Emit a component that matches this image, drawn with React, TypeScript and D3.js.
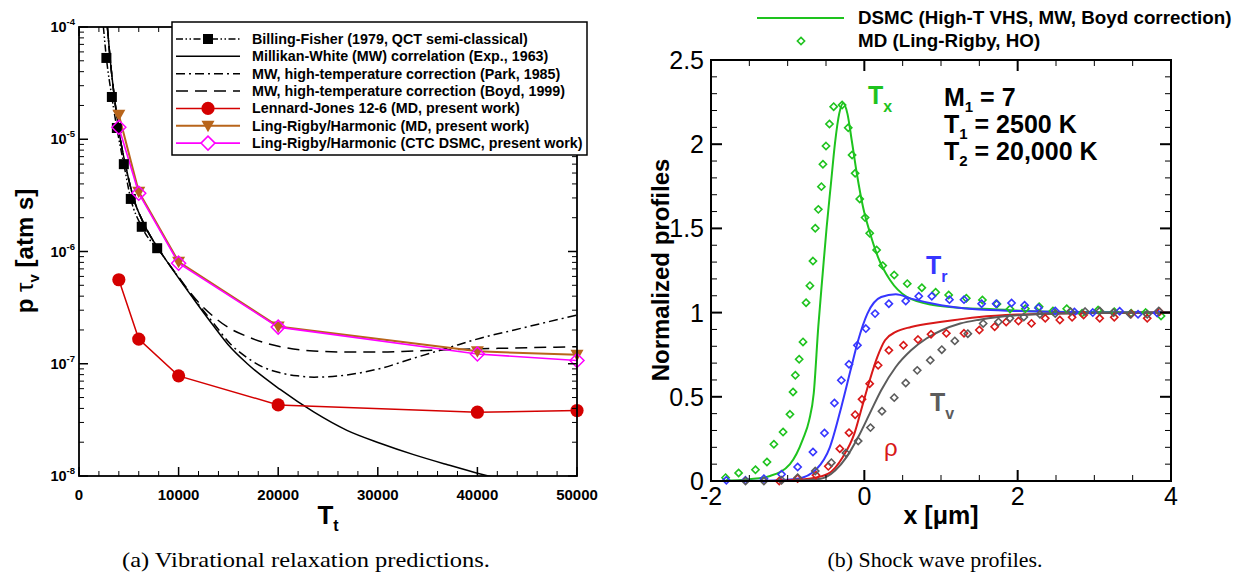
import React from 'react';
import * as d3 from 'd3';

// ---------------- Left panel data (p*tau_v vs T_t) ----------------
const bfMarkT = [2750, 3300, 3800, 4500, 5200, 6300, 7850];
const bfMarkV = [5.3e-5, 2.38e-5, 1.26e-5, 6.0e-6, 2.94e-6, 1.66e-6, 1.07e-6];
const bfLineT = [2450, 2750, 3300, 3800, 4500, 5200, 6300, 7850];
const bfLineV = [1e-4, 5.3e-5, 2.38e-5, 1.26e-5, 6.0e-6, 2.94e-6, 1.66e-6, 1.07e-6];

const mwT = [2850, 3120, 3550, 4150, 4650, 5500, 6540, 8150, 9000, 10200, 11800, 13500, 15000, 16900, 20200, 23600, 26900, 30300, 33600, 37000, 40000, 41500];
const mwV = [1e-4, 5.3e-5, 2.38e-5, 1.0e-5, 6.0e-6, 2.94e-6, 1.75e-6, 1.0e-6, 7.76e-7, 5.47e-7, 3.48e-7, 2.18e-7, 1.47e-7, 1.0e-7, 5.9e-8, 3.7e-8, 2.55e-8, 1.95e-8, 1.55e-8, 1.26e-8, 1.06e-8, 0.98e-8];

const parkT = [2850, 3120, 3550, 4150, 4650, 5500, 6540, 8150, 9000, 10200, 11800, 13500, 15200, 16900, 18500, 20200, 21900, 23600, 26900, 30300, 33600, 37000, 40300, 43700, 50000];
const parkV = [1e-4, 5.3e-5, 2.38e-5, 1.0e-5, 6.0e-6, 2.94e-6, 1.75e-6, 1.0e-6, 7.8e-7, 5.55e-7, 3.55e-7, 2.3e-7, 1.5e-7, 1.13e-7, 9.3e-8, 8.3e-8, 7.8e-8, 7.6e-8, 7.95e-8, 9.1e-8, 1.12e-7, 1.38e-7, 1.69e-7, 2.0e-7, 2.72e-7];

const boydT = [2850, 3120, 3550, 4150, 4650, 5500, 6540, 8150, 9000, 10200, 11170, 12300, 13510, 15000, 16870, 18500, 20220, 23540, 27000, 30280, 33600, 36990, 40300, 43660, 47000, 50000];
const boydV = [1e-4, 5.3e-5, 2.38e-5, 1.0e-5, 6.0e-6, 2.94e-6, 1.75e-6, 1.0e-6, 7.8e-7, 5.6e-7, 4.3e-7, 3.3e-7, 2.63e-7, 2.1e-7, 1.75e-7, 1.55e-7, 1.42e-7, 1.3e-7, 1.27e-7, 1.27e-7, 1.3e-7, 1.33e-7, 1.36e-7, 1.38e-7, 1.4e-7, 1.42e-7];

const mdT = [4000, 6000, 10000, 20000, 40000, 50000];
const ljV = [5.6e-7, 1.66e-7, 7.8e-8, 4.3e-8, 3.7e-8, 3.83e-8];
const lrV = [1.65e-5, 3.4e-6, 8.1e-7, 2.15e-7, 1.29e-7, 1.2e-7];
const ctcV = [1.28e-5, 3.3e-6, 7.87e-7, 2.12e-7, 1.22e-7, 1.07e-7];

const xTickLabelsL = ['0', '10000', '20000', '30000', '40000', '50000'];
const yTickExpL = [-4, -5, -6, -7, -8];

const legendLabelsL = [
  'Billing-Fisher (1979, QCT semi-classical)',
  'Millikan-White (MW) correlation (Exp., 1963)',
  'MW, high-temperature correction (Park, 1985)',
  'MW, high-temperature correction (Boyd, 1999)',
  'Lennard-Jones 12-6 (MD, present work)',
  'Ling-Rigby/Harmonic (MD, present work)',
  'Ling-Rigby/Harmonic (CTC DSMC, present work)',
];

// ---------------- Right panel data (shock profiles) ----------------
const txLineX = [-1.85, -1.5, -1.23, -0.97, -0.8, -0.72, -0.66, -0.6, -0.543, -0.491, -0.435, -0.383, -0.327, -0.274, -0.22, -0.165, -0.099, -0.017, 0.074, 0.178, 0.335, 0.553, 0.896, 1.34, 1.69, 2.2, 3.0, 4.0];
const txLineY = [0.0, 0.01, 0.03, 0.1, 0.25, 0.36, 0.52, 0.92, 1.233, 1.51, 1.768, 2.005, 2.183, 2.243, 2.18, 2.025, 1.829, 1.627, 1.473, 1.33, 1.194, 1.094, 1.045, 1.026, 1.02, 1.008, 1.003, 1.0];
const txMdX = [-1.81, -1.64, -1.42, -1.27, -1.18, -1.06, -0.97, -0.93, -0.9, -0.85, -0.8, -0.76, -0.71, -0.67, -0.64, -0.6, -0.56, -0.54, -0.5, -0.455, -0.4, -0.29, -0.21, -0.16, -0.12, -0.06, 0.01, 0.07, 0.16, 0.24, 0.39, 0.56, 0.75, 0.93, 1.1, 1.33, 1.54, 1.73, 1.9, 2.1, 2.28, 2.46, 2.64, 2.84, 3.05, 3.26, 3.48, 3.67, 3.87];
const txMdY = [0.02, 0.048, 0.067, 0.113, 0.218, 0.291, 0.396, 0.529, 0.628, 0.723, 0.826, 1.059, 1.16, 1.306, 1.501, 1.613, 1.748, 1.881, 1.989, 2.12, 2.223, 2.233, 2.098, 1.936, 1.827, 1.675, 1.564, 1.471, 1.372, 1.279, 1.223, 1.172, 1.148, 1.121, 1.105, 1.085, 1.075, 1.051, 1.021, 1.023, 1.035, 1.01, 1.023, 0.996, 1.015, 1.005, 0.996, 1.0, 0.98];

const trLineX = [-1.8, -1.3, -0.87, -0.62, -0.45, -0.3, -0.18, -0.08, 0.04, 0.22, 0.41, 0.61, 1.0, 1.5, 2.0, 2.5, 3.0, 4.0];
const trLineY = [0, 0.002, 0.014, 0.073, 0.2, 0.44, 0.657, 0.836, 0.994, 1.093, 1.109, 1.083, 1.044, 1.018, 1.01, 1.004, 1.001, 1.0];
const trMdX = [-1.8, -1.55, -1.31, -1.08, -0.87, -0.67, -0.52, -0.39, -0.3, -0.2, -0.09, 0.02, 0.14, 0.32, 0.54, 0.71, 0.88, 1.11, 1.3, 1.53, 1.72, 1.92, 2.09, 2.27, 2.49, 2.74, 2.98, 3.33, 3.57, 3.82];
const trMdY = [0.004, 0.004, 0.014, 0.04, 0.083, 0.172, 0.285, 0.463, 0.598, 0.693, 0.806, 0.905, 0.994, 1.053, 1.069, 1.097, 1.097, 1.077, 1.077, 1.053, 1.053, 1.057, 1.044, 1.028, 1.01, 1.004, 1.0, 1.008, 0.99, 0.998];

const rhoLineX = [-1.2, -0.72, -0.47, -0.28, -0.13, -0.03, 0.07, 0.17, 0.27, 0.41, 0.61, 1.01, 1.5, 2.0, 2.49, 3.0, 4.0];
const rhoLineY = [0, 0.014, 0.044, 0.143, 0.281, 0.44, 0.598, 0.737, 0.836, 0.885, 0.915, 0.945, 0.974, 0.988, 0.994, 0.998, 1.0];
const rhoMdX = [-1.11, -0.87, -0.63, -0.47, -0.32, -0.2, -0.12, -0.03, 0.07, 0.18, 0.32, 0.51, 0.7, 0.87, 1.07, 1.3, 1.5, 1.7, 1.85, 2.01, 2.18, 2.36, 2.55, 2.71, 2.86, 3.07, 3.26, 3.48, 3.69, 3.85];
const rhoMdY = [0.0, 0.014, 0.034, 0.087, 0.192, 0.287, 0.394, 0.485, 0.578, 0.687, 0.776, 0.806, 0.84, 0.871, 0.877, 0.877, 0.897, 0.916, 0.944, 0.95, 0.936, 0.966, 0.956, 0.972, 0.986, 0.966, 0.972, 0.992, 0.966, 1.005];

const tvLineX = [-1.0, -0.57, -0.38, -0.23, -0.08, 0.07, 0.22, 0.41, 0.61, 0.81, 1.01, 1.25, 1.5, 1.75, 1.99, 2.49, 3.0, 4.0];
const tvLineY = [0, 0.014, 0.063, 0.143, 0.261, 0.4, 0.539, 0.677, 0.776, 0.846, 0.895, 0.935, 0.958, 0.974, 0.984, 0.994, 0.998, 1.0];
const tvMdX = [-1.55, -1.31, -1.08, -0.87, -0.64, -0.43, -0.24, -0.08, 0.08, 0.23, 0.39, 0.54, 0.69, 0.86, 1.01, 1.18, 1.35, 1.55, 1.75, 1.9, 2.08, 2.29, 2.49, 2.69, 2.88, 3.07, 3.25, 3.47, 3.69, 3.84];
const tvMdY = [0.0, 0.0, 0.005, 0.02, 0.059, 0.109, 0.166, 0.237, 0.317, 0.414, 0.495, 0.582, 0.657, 0.717, 0.78, 0.832, 0.875, 0.935, 0.945, 0.966, 0.974, 0.99, 0.994, 1.006, 1.006, 1.01, 1.0, 0.99, 0.99, 1.01];

const xTicksR = [-2, 0, 2, 4];
const yTicksR = [0, 0.5, 1, 1.5, 2, 2.5];

// ---------------- styles ----------------
const SANS = "'Liberation Sans', Arial, Helvetica, sans-serif";
const SERIF = "'Liberation Serif', 'Times New Roman', serif";
const RED = '#d40000';
const BROWN = '#b8651b';
const MAGENTA = '#ff00ff';
const GREEN = '#1ec31e';
const BLUE = '#3636ff';
const RRED = '#d81818';
const GRAY = '#5c5c5c';

const zip = (a: number[], b: number[]): [number, number][] => a.map((v, i) => [v, b[i]]);

export default function App() {
  const xL = d3.scaleLinear().domain([0, 50000]).range([79, 577]);
  const yL = d3.scaleLog().domain([1e-8, 1e-4]).range([476, 27]);
  const xR = d3.scaleLinear().domain([-2, 4]).range([711, 1171]);
  const yR = d3.scaleLinear().domain([0, 2.5]).range([481, 60]);

  const smoothL = d3.line<[number, number]>().x(d => xL(d[0])).y(d => yL(d[1])).curve(d3.curveMonotoneX);
  const straightL = d3.line<[number, number]>().x(d => xL(d[0])).y(d => yL(d[1]));
  const smoothR = d3.line<[number, number]>().x(d => xR(d[0])).y(d => yR(d[1])).curve(d3.curveMonotoneX);

  const [l0, l1] = xL.range();
  const [b0, t0] = yL.range();
  const [r0, r1] = xR.range();
  const [rb, rt] = yR.range();

  const xMinorL = d3.range(0, 50001, 2000);
  const yMinorL: { v: number; major: boolean }[] = [];
  for (let e = -8; e <= -5; e++) {
    for (let m = 1; m <= 9; m++) yMinorL.push({ v: m * Math.pow(10, e), major: m === 1 });
  }
  yMinorL.push({ v: 1e-4, major: true });

  const xMinorR = d3.range(-2, 4.001, 0.5);
  const yMinorR = d3.range(0, 2.5001, 0.1);

  const diamond = (s: number) => `M0,${-s}L${s},0L0,${s}L${-s},0Z`;
  const tri = 'M-6.5,-5L6.5,-5L0,6.5Z';

  const legY = (i: number) => 39 + i * 17.35;

  const mdDiamonds = (xs: number[], ys: number[], color: string, key: string) =>
    zip(xs, ys).map((d, i) => (
      <path key={key + i} d={diamond(3.6)} transform={`translate(${xR(d[0])},${yR(d[1])})`} fill="none" stroke={color} strokeWidth={1.6} />
    ));

  return (
    <svg width={1234} height={573} style={{ position: 'absolute', left: 0, top: 0, background: '#fff' }} fontFamily={SANS}>
      <defs>
        <clipPath id="clipL"><rect x={l0} y={t0} width={l1 - l0} height={b0 - t0} /></clipPath>
        <clipPath id="clipR"><rect x={r0} y={rt} width={r1 - r0} height={rb - rt} /></clipPath>
      </defs>
      <rect x={0} y={0} width={1234} height={573} fill="#fff" />

      {/* ================= LEFT PANEL ================= */}
      <g clipPath="url(#clipL)" fill="none">
        <path d={smoothL(zip(mwT, mwV)) || ''} stroke="#000" strokeWidth={1.5} />
        <path d={smoothL(zip(parkT, parkV)) || ''} stroke="#000" strokeWidth={1.5} strokeDasharray="9,4,2,4" />
        <path d={smoothL(zip(boydT, boydV)) || ''} stroke="#000" strokeWidth={1.5} strokeDasharray="12,7" />
        <path d={smoothL(zip(bfLineT, bfLineV)) || ''} stroke="#000" strokeWidth={1.5} strokeDasharray="7,2.5,1.5,2.5,1.5,2.5" />
        <path d={straightL(zip(mdT, ljV)) || ''} stroke={RED} strokeWidth={1.5} />
        <path d={straightL(zip(mdT, lrV)) || ''} stroke={BROWN} strokeWidth={2} />
        <path d={straightL(zip(mdT, ctcV)) || ''} stroke={MAGENTA} strokeWidth={1.6} />
      </g>
      {zip(bfMarkT, bfMarkV).map((d, i) => (
        <rect key={'bf' + i} x={xL(d[0]) - 5} y={yL(d[1]) - 5} width={10} height={10} fill="#000" />
      ))}
      {zip(mdT, ljV).map((d, i) => (
        <circle key={'lj' + i} cx={xL(d[0])} cy={yL(d[1])} r={6.6} fill={RED} />
      ))}
      {zip(mdT, lrV).map((d, i) => (
        <path key={'lr' + i} d={tri} transform={`translate(${xL(d[0])},${yL(d[1])})`} fill={BROWN} />
      ))}
      {zip(mdT, ctcV).map((d, i) => (
        <path key={'ctc' + i} d={diamond(7)} transform={`translate(${xL(d[0])},${yL(d[1])})`} fill="none" stroke={MAGENTA} strokeWidth={1.5} />
      ))}

      <g stroke="#000" strokeWidth={1}>
        {xMinorL.map(v => {
          const major = v % 10000 === 0;
          const len = major ? 9 : 5;
          return (
            <g key={'xt' + v} strokeWidth={major ? 1.5 : 1}>
              <line x1={xL(v)} x2={xL(v)} y1={b0} y2={b0 - len} />
              <line x1={xL(v)} x2={xL(v)} y1={t0} y2={t0 + len} />
            </g>
          );
        })}
        {yMinorL.map(t => {
          const len = t.major ? 9 : 5;
          return (
            <g key={'yt' + t.v} strokeWidth={t.major ? 1.5 : 1}>
              <line x1={l0} x2={l0 + len} y1={yL(t.v)} y2={yL(t.v)} />
              <line x1={l1} x2={l1 - len} y1={yL(t.v)} y2={yL(t.v)} />
            </g>
          );
        })}
      </g>
      <rect x={l0} y={t0} width={l1 - l0} height={b0 - t0} fill="none" stroke="#000" strokeWidth={1.8} />

      {xTickLabelsL.map((s, i) => (
        <text key={'xl' + s} x={xL(i * 10000)} y={500} textAnchor="middle" fontSize={15} fontWeight="bold">{s}</text>
      ))}
      {yTickExpL.map(e => (
        <text key={'yl' + e} x={75} y={yL(Math.pow(10, e)) + 5} textAnchor="end" fontWeight="bold" fontSize={14.5}>
          10<tspan dy={-7} fontSize={9.5}>{String(e)}</tspan>
        </text>
      ))}

      <text transform="translate(33,251) rotate(-90)" textAnchor="middle" fontSize={24} fontWeight="bold">
        p <tspan fontWeight="normal">τ</tspan><tspan dy={6} fontSize={15}>v</tspan><tspan dy={-6}> [atm s]</tspan>
      </text>
      <text x={328} y={524} textAnchor="middle" fontSize={26} fontWeight="bold">
        T<tspan dy={7} fontSize={16}>t</tspan>
      </text>
      <text x={306} y={567} textAnchor="middle" fontFamily={SERIF} fontSize={21} textLength={368} lengthAdjust="spacingAndGlyphs">(a) Vibrational relaxation predictions.</text>

      <rect x={172} y={22} width={415} height={133} fill="#fff" stroke="#000" strokeWidth={1.5} />
      <g fill="none">
        <line x1={176} x2={240} y1={legY(0)} y2={legY(0)} stroke="#000" strokeWidth={1.5} strokeDasharray="7,2.5,1.5,2.5,1.5,2.5" />
        <line x1={176} x2={240} y1={legY(1)} y2={legY(1)} stroke="#000" strokeWidth={1.5} />
        <line x1={176} x2={240} y1={legY(2)} y2={legY(2)} stroke="#000" strokeWidth={1.5} strokeDasharray="9,4,2,4" />
        <line x1={176} x2={240} y1={legY(3)} y2={legY(3)} stroke="#000" strokeWidth={1.5} strokeDasharray="12,7" />
        <line x1={176} x2={240} y1={legY(4)} y2={legY(4)} stroke={RED} strokeWidth={1.5} />
        <line x1={176} x2={240} y1={legY(5)} y2={legY(5)} stroke={BROWN} strokeWidth={2} />
        <line x1={176} x2={240} y1={legY(6)} y2={legY(6)} stroke={MAGENTA} strokeWidth={1.6} />
      </g>
      <rect x={203} y={legY(0) - 5} width={10} height={10} fill="#000" />
      <circle cx={208} cy={legY(4)} r={6.6} fill={RED} />
      <path d={tri} transform={`translate(208,${legY(5)})`} fill={BROWN} />
      <path d={diamond(7)} transform={`translate(208,${legY(6)})`} fill="#fff" stroke={MAGENTA} strokeWidth={1.5} />
      {legendLabelsL.map((s, i) => (
        <text key={'lg' + i} x={252} y={legY(i) + 5} fontSize={14.3} fontWeight="bold">{s}</text>
      ))}

      {/* ================= RIGHT PANEL ================= */}
      <g clipPath="url(#clipR)" fill="none" strokeWidth={2}>
        <path d={smoothR(zip(txLineX, txLineY)) || ''} stroke={GREEN} />
        <path d={smoothR(zip(trLineX, trLineY)) || ''} stroke={BLUE} />
        <path d={smoothR(zip(rhoLineX, rhoLineY)) || ''} stroke={RRED} />
        <path d={smoothR(zip(tvLineX, tvLineY)) || ''} stroke={GRAY} />
      </g>
      {mdDiamonds(txMdX, txMdY, GREEN, 'gx')}
      {mdDiamonds(trMdX, trMdY, BLUE, 'br')}
      {mdDiamonds(rhoMdX, rhoMdY, RRED, 'rr')}
      {mdDiamonds(tvMdX, tvMdY, GRAY, 'tv')}

      <g stroke="#000">
        {xMinorR.map(v => {
          const major = Math.abs(v / 2 - Math.round(v / 2)) < 1e-6;
          const len = major ? 11 : 6;
          return (
            <g key={'rxt' + v} strokeWidth={major ? 2 : 1}>
              <line x1={xR(v)} x2={xR(v)} y1={rb} y2={rb - len} />
              <line x1={xR(v)} x2={xR(v)} y1={rt} y2={rt + len} />
            </g>
          );
        })}
        {yMinorR.map(v => {
          const major = Math.abs(v / 0.5 - Math.round(v / 0.5)) < 1e-6;
          const len = major ? 11 : 6;
          return (
            <g key={'ryt' + v.toFixed(1)} strokeWidth={major ? 2 : 1}>
              <line x1={r0} x2={r0 + len} y1={yR(v)} y2={yR(v)} />
              <line x1={r1} x2={r1 - len} y1={yR(v)} y2={yR(v)} />
            </g>
          );
        })}
      </g>
      <rect x={r0} y={rt} width={r1 - r0} height={rb - rt} fill="none" stroke="#000" strokeWidth={2} />

      {yTicksR.map(v => (
        <text key={'ryl' + v} x={704} y={yR(v) + 9} textAnchor="end" fontSize={25}>{String(v)}</text>
      ))}
      {xTicksR.map(v => (
        <text key={'rxl' + v} x={xR(v)} y={505} textAnchor="middle" fontSize={25}>{String(v)}</text>
      ))}
      <text transform="translate(669,270) rotate(-90)" textAnchor="middle" fontSize={24} fontWeight="bold">Normalized profiles</text>
      <text x={941} y={524} textAnchor="middle" fontSize={25} fontWeight="bold">x [μm]</text>
      <text x={935} y={567} textAnchor="middle" fontFamily={SERIF} fontSize={21} textLength={215} lengthAdjust="spacingAndGlyphs">(b) Shock wave profiles.</text>

      <line x1={757} x2={844} y1={18} y2={18} stroke={GREEN} strokeWidth={2} />
      <text x={858} y={24} fontSize={18.8} fontWeight="bold">DSMC (High-T VHS, MW, Boyd correction)</text>
      <path d={diamond(3.6)} transform="translate(801,41)" fill="none" stroke={GREEN} strokeWidth={1.6} />
      <text x={858} y={47} fontSize={18.8} fontWeight="bold">MD (Ling-Rigby, HO)</text>

      <text x={868} y={104} fontSize={25} fontWeight="bold" fill={GREEN}>T<tspan dy={8} fontSize={16}>x</tspan></text>
      <text x={926} y={274} fontSize={25} fontWeight="bold" fill={BLUE}>T<tspan dy={8} fontSize={16}>r</tspan></text>
      <text x={930} y={411} fontSize={25} fontWeight="bold" fill={GRAY}>T<tspan dy={8} fontSize={16}>v</tspan></text>
      <text x={884} y={456} fontSize={24} fill={RRED}>ρ</text>
      <g fontSize={25} fontWeight="bold" fill="#000">
        <text x={944} y={106}>M<tspan dy={6} fontSize={15}>1</tspan><tspan dy={-6}> = 7</tspan></text>
        <text x={944} y={133}>T<tspan dy={6} fontSize={15}>1</tspan><tspan dy={-6}> = 2500 K</tspan></text>
        <text x={944} y={160}>T<tspan dy={6} fontSize={15}>2</tspan><tspan dy={-6}> = 20,000 K</tspan></text>
      </g>
    </svg>
  );
}
